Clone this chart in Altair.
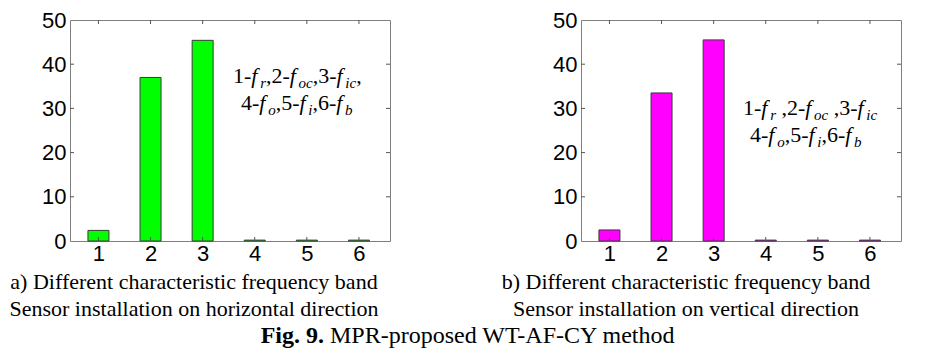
import altair as alt
import pandas as pd

# ---- data ----
cats = [1, 2, 3, 4, 5, 6]
horizontal_vals = [2.4, 37.0, 45.4, 0.2, 0.2, 0.2]
vertical_vals = [2.5, 33.5, 45.5, 0.2, 0.2, 0.2]
y_tick_vals = [0, 10, 20, 30, 40, 50]

cap_left = ["a) Different characteristic frequency band",
            "Sensor installation on horizontal direction"]
cap_right = ["b) Different characteristic frequency band",
             "Sensor installation on vertical direction"]
fig_bold = "Fig. 9."
fig_rest = "MPR-proposed WT-AF-CY method"

ann_left = [
    [("1-", "n"), ("f", "i"), ("r", "s"), (",2-", "n"), ("f", "i"), ("oc", "s"),
     (",3-", "n"), ("f", "i"), ("ic", "s"), (",", "n")],
    [("4-", "n"), ("f", "i"), ("o", "s"), (",5-", "n"), ("f", "i"), ("i", "s"),
     (",6-", "n"), ("f", "i"), ("b", "s")],
]
ann_right = [
    [("1-", "n"), ("f", "i"), ("r", "s"), (" ", "sp"), (",2-", "n"), ("f", "i"),
     ("oc", "s"), (" ", "sp"), (",3-", "n"), ("f", "i"), ("ic", "s")],
    [("4-", "n"), ("f", "i"), ("o", "s"), (",5-", "n"), ("f", "i"), ("i", "s"),
     (",6-", "n"), ("f", "i"), ("b", "s")],
]

W = 320
H = 221
GAP = 191
SERIF = "Liberation Serif"
SANS = "Liberation Sans"

NORMAL_W = {str(d): 0.5 for d in range(10)}
NORMAL_W.update({"-": 0.333, ",": 0.25, " ": 0.25})
ITAL_W = {"f": 0.40, "r": 0.389, "o": 0.5, "c": 0.444, "i": 0.278, "b": 0.5}
ANN_SIZE = 22
SUB_SIZE = 15
SHIFT = 5


def seg_width(text, kind):
    if kind in ("n", "sp"):
        return sum(NORMAL_W.get(ch, 0.5) for ch in text) * ANN_SIZE
    size = ANN_SIZE if kind == "i" else SUB_SIZE
    return sum(ITAL_W.get(ch, 0.45) for ch in text) * size


def ann_marks(lines, starts, baselines):
    marks = []
    for segs, x0, base in zip(lines, starts, baselines):
        x = x0
        for text, kind in segs:
            if kind != "sp":
                size = SUB_SIZE if kind == "s" else ANN_SIZE
                style = "normal" if kind == "n" else "italic"
                yy = base + (5 if kind == "s" else 0)
                m = alt.Chart(alt.Data(values=[{}])).mark_text(
                    text=text, font=SERIF, fontSize=size, fontStyle=style,
                    align="left", baseline="alphabetic", color="black"
                ).encode(x=alt.value(x), y=alt.value(yy))
                marks.append(m)
            x += seg_width(text, kind)
    return marks


def text_mark(text, x, y, size, weight="normal", align="center"):
    return alt.Chart(alt.Data(values=[{}])).mark_text(
        text=text, font=SERIF, fontSize=size, fontWeight=weight,
        align=align, baseline="alphabetic", color="black"
    ).encode(x=alt.value(x), y=alt.value(y))


def panel(vals, color, ann, ann_starts, ann_bases, caps, cap_center, extra=()):
    df = pd.DataFrame({"cat": cats, "val": vals})
    xscale = alt.Scale(domain=[0.55, 6.5], nice=False, zero=False)
    yscale = alt.Scale(domain=[0, 50], nice=False)
    bars = alt.Chart(df).mark_bar(
        size=21, color=color, stroke="#3a3a3a", strokeWidth=1
    ).encode(
        x=alt.X("cat:Q", scale=xscale,
                axis=alt.Axis(values=cats, format="d", title=None, ticks=False,
                              domain=False, grid=False, labelFont=SANS,
                              labelFontSize=22, labelColor="black",
                              labelPadding=2)),
        y=alt.Y("val:Q", scale=yscale,
                axis=alt.Axis(values=y_tick_vals, title=None, ticks=False,
                              domain=False, grid=False, labelFont=SANS,
                              labelFontSize=22, labelColor="black",
                              labelPadding=4)),
    )
    ydf = pd.DataFrame({"v": y_tick_vals[1:-1]})
    xdf = pd.DataFrame({"c": cats})
    tick_col = "#555555"
    yl = alt.Chart(ydf).mark_rule(color=tick_col).encode(
        y=alt.Y("v:Q", scale=yscale), x=alt.value(0), x2=alt.value(4))
    yr = alt.Chart(ydf).mark_rule(color=tick_col).encode(
        y=alt.Y("v:Q", scale=yscale), x=alt.value(W - 4), x2=alt.value(W))
    xb = alt.Chart(xdf).mark_rule(color=tick_col).encode(
        x=alt.X("c:Q", scale=xscale), y=alt.value(H - 4), y2=alt.value(H))
    xt = alt.Chart(xdf).mark_rule(color=tick_col).encode(
        x=alt.X("c:Q", scale=xscale), y=alt.value(0), y2=alt.value(4))
    layers = [bars, yl, yr, xb, xt]
    layers += ann_marks(ann, ann_starts, ann_bases)
    layers.append(text_mark(caps[0], cap_center, 269, 22))
    layers.append(text_mark(caps[1], cap_center, 296, 22))
    layers += list(extra)
    return alt.layer(*layers).properties(width=W, height=H)


fig_extra = [
    text_mark(fig_bold, 249 + SHIFT, 323, 24, weight="bold", align="right"),
    text_mark(fig_rest, 255 + SHIFT, 323, 24, align="left"),
]

left = panel(horizontal_vals, "#00ff00", ann_left,
             [158 + SHIFT, 166 + SHIFT], [63, 90],
             cap_left, 119 + SHIFT, fig_extra)
right = panel(vertical_vals, "#ff00ff", ann_right,
              [157 + SHIFT, 164 + SHIFT], [95, 122],
              cap_right, 100 + SHIFT)

chart = alt.hconcat(left, right, spacing=GAP, bounds="flush").properties(
    padding={"left": 0, "top": 0, "right": 0, "bottom": 0},
    background="white",
).configure_view(stroke="#7f7f7f", strokeWidth=1)

chart.save("out.html", embed_options={"renderer": "svg", "actions": False})
